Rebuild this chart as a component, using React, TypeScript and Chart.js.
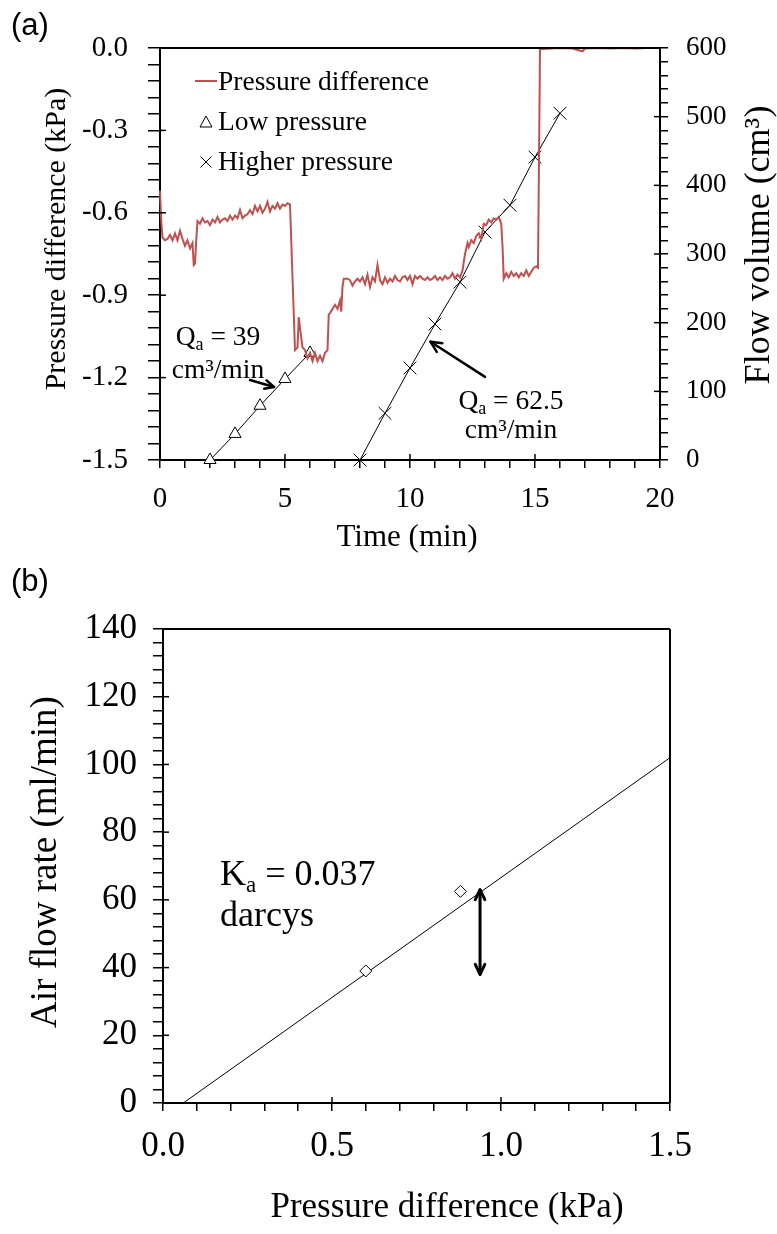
import React, { useEffect, useRef } from 'react';
import { Chart, registerables } from 'chart.js';

Chart.register(...registerables);

const SERIF = "'Liberation Serif', 'Times New Roman', Times, serif";
const SANS = "'Liberation Sans', Arial, Helvetica, sans-serif";

Chart.defaults.font.family = SERIF;
Chart.defaults.color = '#000';

// ---------- Panel (a) data ----------
const pdTime = [
  0, 0.05, 0.1, 0.2, 0.3, 0.4, 0.5, 0.6, 0.7, 0.8, 0.9, 1.0, 1.1, 1.2, 1.3, 1.35, 1.4, 1.45, 1.5,
  1.6, 1.7, 1.8, 1.9, 2.0, 2.1, 2.2, 2.3, 2.4, 2.5, 2.6, 2.7, 2.8, 2.9, 3.0, 3.1, 3.2, 3.3, 3.4,
  3.5, 3.6, 3.7, 3.8, 3.9, 4.0, 4.1, 4.2, 4.3, 4.4, 4.5, 4.6, 4.7, 4.8, 4.9, 5.0, 5.1, 5.2,
  5.4, 5.5, 5.55, 5.6, 5.7, 5.8, 5.9, 6.0, 6.1, 6.2, 6.3, 6.4, 6.5, 6.6, 6.7, 6.75, 6.8, 6.9,
  7.0, 7.1, 7.2, 7.25, 7.3, 7.35, 7.5, 7.6, 7.7, 7.8, 7.9, 8.0, 8.1, 8.2, 8.3, 8.4, 8.5, 8.6,
  8.7, 8.8, 8.9, 9.0, 9.1, 9.2, 9.3, 9.4, 9.5, 9.6, 9.7, 9.8, 9.9, 10.0, 10.1, 10.2, 10.3, 10.4,
  10.5, 10.6, 10.7, 10.8, 10.9, 11.0, 11.1, 11.2, 11.3, 11.4, 11.5, 11.6, 11.7, 11.8, 11.9, 12.0,
  12.1, 12.2, 12.3, 12.35, 12.45, 12.55, 12.65, 12.75, 12.85, 12.95, 13.05, 13.15, 13.25, 13.35,
  13.45, 13.55, 13.65, 13.7, 13.75, 13.85, 13.95, 14.05, 14.15, 14.25, 14.35, 14.45, 14.55, 14.65,
  14.75, 14.85, 14.95, 15.05, 15.12, 15.2, 15.5, 16.0, 16.5, 16.9, 17.0, 17.5, 18.0, 18.5, 19.0,
  19.5, 20.0,
];
const pdValue = [
  -0.52, -0.63, -0.69, -0.7, -0.695, -0.68, -0.7, -0.675, -0.7, -0.665, -0.695, -0.72, -0.7, -0.73, -0.71, -0.79, -0.785, -0.7, -0.63,
  -0.64, -0.62, -0.635, -0.63, -0.645, -0.625, -0.635, -0.615, -0.635, -0.625, -0.62, -0.63, -0.61, -0.625, -0.61, -0.62, -0.59, -0.62, -0.61,
  -0.605, -0.59, -0.605, -0.575, -0.595, -0.575, -0.6, -0.585, -0.56, -0.595, -0.575, -0.585, -0.565, -0.585, -0.57, -0.575, -0.565, -0.57,
  -1.1, -1.09, -0.98, -1.02, -1.09, -1.1, -1.13, -1.11, -1.14, -1.11, -1.14, -1.12, -1.14, -1.11, -1.1, -0.97, -0.965, -0.95,
  -0.935, -0.95, -0.92, -0.96, -0.87, -0.84, -0.84, -0.845, -0.865, -0.85, -0.84, -0.85, -0.835, -0.86, -0.825, -0.87, -0.835, -0.85,
  -0.79, -0.845, -0.86, -0.835, -0.855, -0.84, -0.85, -0.83, -0.845, -0.85, -0.835, -0.83, -0.845, -0.83, -0.86, -0.83, -0.84, -0.83,
  -0.84, -0.845, -0.835, -0.845, -0.84, -0.83, -0.845, -0.835, -0.845, -0.83, -0.84, -0.835, -0.82, -0.84, -0.825, -0.835,
  -0.81, -0.75, -0.71, -0.725, -0.7, -0.71, -0.685, -0.675, -0.695, -0.64, -0.645, -0.625, -0.635, -0.62,
  -0.625, -0.615, -0.64, -0.72, -0.84, -0.82, -0.835, -0.815, -0.83, -0.82, -0.835, -0.82, -0.83, -0.81,
  -0.83, -0.815, -0.8, -0.795, -0.8, -0.005, -0.003, 0, -0.002, -0.012, -0.002, 0, -0.002, 0, -0.002,
  0, 0,
];
const lowTime = [2, 3, 4, 5, 6];
const lowVolume = [0, 38, 79, 118, 156];
const highTime = [8, 9, 10, 11, 12, 13, 14, 15, 16];
const highVolume = [0, 68, 134, 198, 259, 332, 371, 441, 505];
const timeTickLabels = [0, 5, 10, 15, 20];
const pressureTickLabels = [-1.5, -1.2, -0.9, -0.6, -0.3, 0];
const volumeTickLabels = [0, 100, 200, 300, 400, 500, 600];

// ---------- Panel (b) data ----------
const measuredPressure = [0.6, 0.88];
const measuredFlow = [39, 62.5];
const fitPressure = [0.06, 1.5];
const fitFlow = [0, 102];
const kPressureTickLabels = [0, 0.5, 1.0, 1.5];
const flowTickLabels = [0, 20, 40, 60, 80, 100, 120, 140];

const isMajor = (v: number, list: number[]) => list.some((m) => Math.abs(m - v) < 1e-6);

type Part = { t: string; sub?: boolean };

function drawRich(ctx: CanvasRenderingContext2D, parts: Part[], x: number, baseline: number, size: number, align: 'left' | 'center') {
  const fonts = parts.map((p) => `${p.sub ? Math.round(size * 0.65) : size}px ${SERIF}`);
  const widths = parts.map((p, i) => {
    ctx.font = fonts[i];
    return ctx.measureText(p.t).width;
  });
  const total = widths.reduce((a, b) => a + b, 0);
  let cx = align === 'center' ? x - total / 2 : x;
  ctx.save();
  ctx.textAlign = 'left';
  ctx.textBaseline = 'alphabetic';
  ctx.fillStyle = '#000';
  parts.forEach((p, i) => {
    ctx.font = fonts[i];
    ctx.fillText(p.t, cx, baseline + (p.sub ? size * 0.2 : 0));
    cx += widths[i];
  });
  ctx.restore();
}

function drawArrow(ctx: CanvasRenderingContext2D, x1: number, y1: number, x2: number, y2: number, head: number, lw: number, both = false) {
  ctx.save();
  ctx.strokeStyle = '#000';
  ctx.lineWidth = lw;
  ctx.lineCap = 'round';
  ctx.lineJoin = 'round';
  ctx.beginPath();
  ctx.moveTo(x1, y1);
  ctx.lineTo(x2, y2);
  ctx.stroke();
  const hd = (fx: number, fy: number, tx: number, ty: number) => {
    const a = Math.atan2(ty - fy, tx - fx);
    ctx.beginPath();
    ctx.moveTo(tx - head * Math.cos(a - 0.45), ty - head * Math.sin(a - 0.45));
    ctx.lineTo(tx, ty);
    ctx.lineTo(tx - head * Math.cos(a + 0.45), ty - head * Math.sin(a + 0.45));
    ctx.stroke();
  };
  hd(x1, y1, x2, y2);
  if (both) hd(x2, y2, x1, y1);
  ctx.restore();
}

function vText(ctx: CanvasRenderingContext2D, text: string, cx: number, cy: number, size: number) {
  ctx.save();
  ctx.translate(cx, cy);
  ctx.rotate(-Math.PI / 2);
  ctx.font = `${size}px ${SERIF}`;
  ctx.textAlign = 'center';
  ctx.textBaseline = 'middle';
  ctx.fillStyle = '#000';
  ctx.fillText(text, 0, 0);
  ctx.restore();
}

function hText(ctx: CanvasRenderingContext2D, text: string, cx: number, cy: number, size: number) {
  ctx.save();
  ctx.font = `${size}px ${SERIF}`;
  ctx.textAlign = 'center';
  ctx.textBaseline = 'middle';
  ctx.fillStyle = '#000';
  ctx.fillText(text, cx, cy);
  ctx.restore();
}

function line(ctx: CanvasRenderingContext2D, x1: number, y1: number, x2: number, y2: number, lw: number) {
  ctx.save();
  ctx.strokeStyle = '#000';
  ctx.lineWidth = lw;
  ctx.beginPath();
  ctx.moveTo(x1, y1);
  ctx.lineTo(x2, y2);
  ctx.stroke();
  ctx.restore();
}

const axisCommon = (size: number, tickLength: number, padding: number) => ({
  ticks: { color: '#000', font: { family: SERIF, size }, padding, autoSkip: false, maxRotation: 0, includeBounds: true },
  grid: { drawOnChartArea: false, drawTicks: true, tickLength, color: '#000', lineWidth: 1.5 },
  border: { display: true, color: '#000', width: 2 },
});

const panelAPlugin = {
  id: 'panelA',
  afterDraw(chart: any) {
    const ctx: CanvasRenderingContext2D = chart.ctx;
    const ca = chart.chartArea;
    const sx = chart.scales.x;
    const sy = chart.scales.y;
    const sy1 = chart.scales.y1;
    line(ctx, ca.left, ca.top, ca.right, ca.top, 2);
    pressureTickLabels.forEach((v) => { const p = sy.getPixelForValue(v); line(ctx, ca.left, p, ca.left + 6, p, 1.5); });
    volumeTickLabels.forEach((v) => { const p = sy1.getPixelForValue(v); line(ctx, ca.right - 6, p, ca.right, p, 1.5); });
    timeTickLabels.forEach((v) => { const p = sx.getPixelForValue(v); line(ctx, p, ca.bottom - 6, p, ca.bottom, 1.5); });

    // legend
    const ls = 27.5;
    ctx.save();
    ctx.strokeStyle = '#C0504D';
    ctx.lineWidth = 2;
    ctx.beginPath();
    ctx.moveTo(195, 81);
    ctx.lineTo(217, 81);
    ctx.stroke();
    ctx.strokeStyle = '#000';
    ctx.lineWidth = 1;
    ctx.beginPath();
    ctx.moveTo(206, 116);
    ctx.lineTo(212, 127);
    ctx.lineTo(200, 127);
    ctx.closePath();
    ctx.stroke();
    ctx.beginPath();
    ctx.moveTo(200.5, 156.5);
    ctx.lineTo(211.5, 167.5);
    ctx.moveTo(211.5, 156.5);
    ctx.lineTo(200.5, 167.5);
    ctx.stroke();
    ctx.restore();
    drawRich(ctx, [{ t: 'Pressure difference' }], 218, 90, ls, 'left');
    drawRich(ctx, [{ t: 'Low pressure' }], 218, 130, ls, 'left');
    drawRich(ctx, [{ t: 'Higher pressure' }], 218, 170, ls, 'left');

    // annotations
    const px = (t: number) => sx.getPixelForValue(t);
    const py = (v: number) => sy1.getPixelForValue(v);
    drawRich(ctx, [{ t: 'Q' }, { t: 'a', sub: true }, { t: ' = 39' }], px(2.32), py(167.5), ls, 'center');
    drawRich(ctx, [{ t: 'cm³/min' }], px(2.32), py(119.5), ls, 'center');
    drawArrow(ctx, px(3.6), py(116.5), px(4.56), py(106.3), 10, 2.5);
    drawRich(ctx, [{ t: 'Q' }, { t: 'a', sub: true }, { t: ' = 62.5' }], px(14.04), py(74.3), ls, 'center');
    drawRich(ctx, [{ t: 'cm³/min' }], px(14.04), py(32), ls, 'center');
    drawArrow(ctx, px(13.0), py(121), px(10.82), py(172.3), 12, 2.5);

    // axis titles
    vText(ctx, 'Pressure difference (kPa)', 57, 239, 30);
    vText(ctx, 'Flow volume (cm³)', 760, 245, 36);
    hText(ctx, 'Time (min)', 407, 538, 31);
  },
};

const panelBPlugin = {
  id: 'panelB',
  afterDraw(chart: any) {
    const ctx: CanvasRenderingContext2D = chart.ctx;
    const ca = chart.chartArea;
    const sx = chart.scales.x;
    const sy = chart.scales.y;
    line(ctx, ca.left, ca.top, ca.right, ca.top, 2);
    line(ctx, ca.right, ca.top, ca.right, ca.bottom, 2);
    flowTickLabels.forEach((v) => { const p = sy.getPixelForValue(v); line(ctx, ca.left, p, ca.left + 6, p, 1.5); });
    kPressureTickLabels.forEach((v) => { const p = sx.getPixelForValue(v); line(ctx, p, ca.bottom - 6, p, ca.bottom, 1.5); });

    drawRich(ctx, [{ t: 'K' }, { t: 'a', sub: true }, { t: ' = 0.037' }], 220, 305, 36, 'left');
    drawRich(ctx, [{ t: 'darcys' }], 220, 346, 36, 'left');
    drawArrow(ctx, sx.getPixelForValue(0.938), sy.getPixelForValue(63), sx.getPixelForValue(0.938), sy.getPixelForValue(38), 11, 3, true);

    vText(ctx, 'Air flow rate (ml/min)', 46, 282, 37);
    hText(ctx, 'Pressure difference (kPa)', 447, 628, 35);
  },
};

function PanelA() {
  const ref = useRef<HTMLCanvasElement>(null);
  useEffect(() => {
    if (!ref.current) return;
    const a = axisCommon(29, 8, 14);
    const l = axisCommon(29, 12, 20);
    const r = axisCommon(27, 8, 18);
    const chart = new Chart(ref.current, {
      type: 'scatter',
      data: {
        datasets: [
          {
            label: 'Pressure difference',
            data: pdTime.map((t, i) => ({ x: t, y: pdValue[i] })),
            showLine: true,
            borderColor: '#C0504D',
            backgroundColor: '#C0504D',
            borderWidth: 2,
            pointRadius: 0,
            yAxisID: 'y',
            clip: 4,
          },
          {
            label: 'Low pressure',
            data: lowTime.map((t, i) => ({ x: t, y: lowVolume[i] })),
            showLine: true,
            borderColor: '#000',
            borderWidth: 1,
            pointStyle: 'triangle',
            pointRadius: 7,
            pointBorderColor: '#000',
            pointBackgroundColor: '#fff',
            pointBorderWidth: 1,
            yAxisID: 'y1',
            clip: false,
          },
          {
            label: 'Higher pressure',
            data: highTime.map((t, i) => ({ x: t, y: highVolume[i] })),
            showLine: true,
            borderColor: '#000',
            borderWidth: 1,
            pointStyle: 'crossRot',
            pointRadius: 9,
            pointBorderColor: '#000',
            pointBorderWidth: 1,
            yAxisID: 'y1',
            clip: false,
          },
        ],
      } as any,
      options: {
        animation: false,
        responsive: false,
        events: [],
        layout: { padding: { left: 0, right: 0, top: 48, bottom: 0 } },
        plugins: { legend: { display: false }, tooltip: { enabled: false } },
        scales: {
          x: {
            type: 'linear', min: 0, max: 20, position: 'bottom',
            ...a,
            ticks: { ...a.ticks, stepSize: 1, callback: (v: any) => (isMajor(Number(v), timeTickLabels) ? String(Math.round(Number(v))) : '') },
            afterFit: (s: any) => { s.height = 120; },
          },
          y: {
            type: 'linear', min: -1.5, max: 0, position: 'left',
            ...l,
            ticks: {
              ...l.ticks, stepSize: 0.06,
              callback: (v: any) => {
                const n = Number(v);
                if (!isMajor(n, pressureTickLabels)) return '';
                return Math.abs(n) < 1e-9 ? '0.0' : n.toFixed(1);
              },
            },
            afterFit: (s: any) => { s.width = 160; },
          },
          y1: {
            type: 'linear', min: 0, max: 600, position: 'right',
            ...r,
            ticks: { ...r.ticks, stepSize: 20, callback: (v: any) => (isMajor(Number(v), volumeTickLabels) ? String(Math.round(Number(v))) : '') },
            afterFit: (s: any) => { s.width = 117; },
          },
        },
      } as any,
      plugins: [panelAPlugin],
    });
    return () => chart.destroy();
  }, []);
  return <canvas ref={ref} width={777} height={580} style={{ position: 'absolute', left: 0, top: 0, width: 777, height: 580 }} />;
}

function PanelB() {
  const ref = useRef<HTMLCanvasElement>(null);
  useEffect(() => {
    if (!ref.current) return;
    const a = axisCommon(35, 8, 15);
    const l = axisCommon(35, 10, 16);
    const chart = new Chart(ref.current, {
      type: 'scatter',
      data: {
        datasets: [
          {
            label: 'Measured',
            data: measuredPressure.map((p, i) => ({ x: p, y: measuredFlow[i] })),
            showLine: false,
            pointStyle: 'rectRot',
            pointRadius: 6,
            pointBorderColor: '#000',
            pointBackgroundColor: '#fff',
            pointBorderWidth: 1,
            order: 0,
          },
          {
            label: 'Fit',
            data: fitPressure.map((p, i) => ({ x: p, y: fitFlow[i] })),
            showLine: true,
            borderColor: '#000',
            borderWidth: 1,
            pointRadius: 0,
            order: 1,
          },
        ],
      } as any,
      options: {
        animation: false,
        responsive: false,
        events: [],
        layout: { padding: { left: 0, right: 107, top: 49, bottom: 0 } },
        plugins: { legend: { display: false }, tooltip: { enabled: false } },
        scales: {
          x: {
            type: 'linear', min: 0, max: 1.5, position: 'bottom',
            ...a,
            ticks: { ...a.ticks, stepSize: 0.1, callback: (v: any) => (isMajor(Number(v), kPressureTickLabels) ? Number(v).toFixed(1) : '') },
            afterFit: (s: any) => { s.height = 131; },
          },
          y: {
            type: 'linear', min: 0, max: 140, position: 'left',
            ...l,
            ticks: { ...l.ticks, stepSize: 4, callback: (v: any) => (isMajor(Number(v), flowTickLabels) ? String(Math.round(Number(v))) : '') },
            afterFit: (s: any) => { s.width = 163; },
          },
        },
      } as any,
      plugins: [panelBPlugin],
    });
    return () => chart.destroy();
  }, []);
  return <canvas ref={ref} width={777} height={654} style={{ position: 'absolute', left: 0, top: 580, width: 777, height: 654 }} />;
}

export default function App() {
  const label: React.CSSProperties = { position: 'absolute', left: 11, fontFamily: SANS, fontSize: 31, lineHeight: '31px', color: '#000', margin: 0 };
  return (
    <div style={{ position: 'absolute', left: 0, top: 0, width: 777, height: 1234, background: '#fff', overflow: 'hidden' }}>
      <PanelA />
      <PanelB />
      <div style={{ ...label, top: 9 }}>(a)</div>
      <div style={{ ...label, top: 565 }}>(b)</div>
    </div>
  );
}
